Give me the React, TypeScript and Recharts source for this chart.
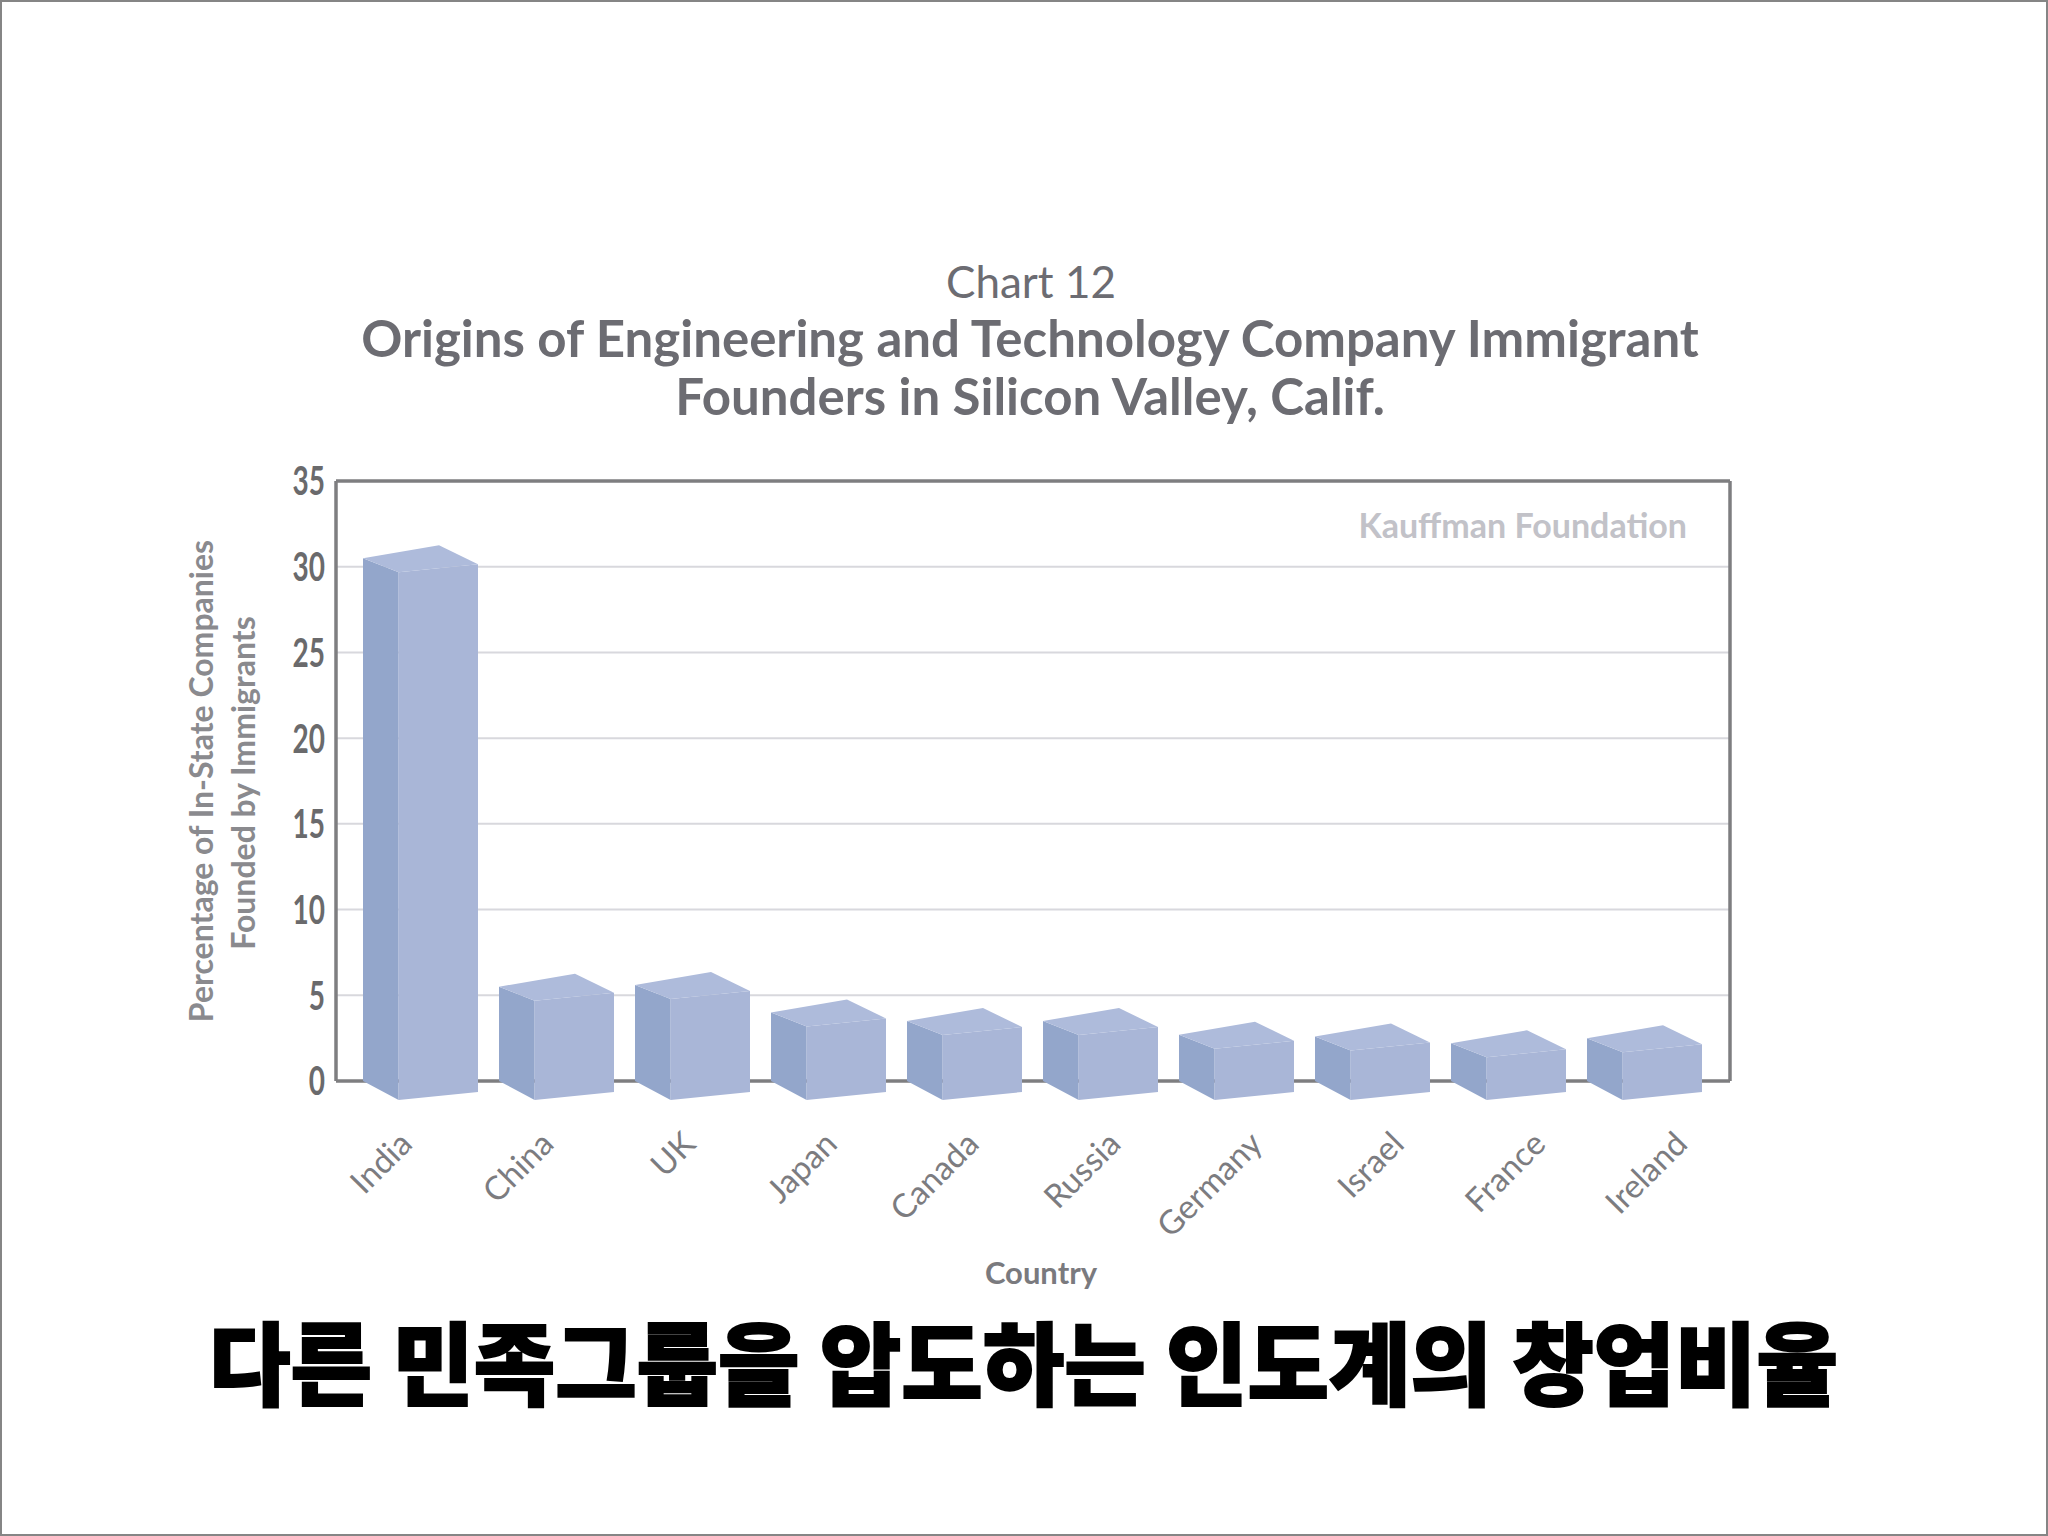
import React from 'react';
import { BarChart, Bar, XAxis, YAxis, CartesianGrid } from 'recharts';

// Kauffman Foundation, Chart 12 — share of Silicon Valley tech companies founded by immigrants, by origin
const COUNTRIES = ['India', 'China', 'UK', 'Japan', 'Canada', 'Russia', 'Germany', 'Israel', 'France', 'Ireland'];
const SHARES = [30.5, 5.5, 5.6, 4.0, 3.5, 3.5, 2.7, 2.6, 2.2, 2.5];
const Y_TICKS = [0, 5, 10, 15, 20, 25, 30, 35];

const TITLE_LINES = [
  'Chart 12',
  'Origins of Engineering and Technology Company Immigrant',
  'Founders in Silicon Valley, Calif.',
];
const Y_LABEL_LINES = ['Percentage of In-State Companies', 'Founded by Immigrants'];
const X_LABEL = 'Country';
const SOURCE = 'Kauffman Foundation';
const CAPTION = '다른 민족그룹을 압도하는 인도계의 창업비율';

const data = COUNTRIES.map((country, i) => ({ country, share: SHARES[i] }));

const W = 2048;
const H = 1536;
const FONT = 'Lato, "Open Sans", sans-serif';

/** 3D 느낌의 상자 막대: 왼쪽 측면(어두움) + 정면 + 윗면 */
function Box3D(props: any) {
  const { x, y, width: w, height: h } = props;
  if (w == null || h == null) return null;
  const s = w * 0.31;
  const base = y + h;
  const side = `M${x},${y} L${x + s},${y + 14} L${x + s},${base + 19} L${x},${base} Z`;
  const front = `M${x + s},${y + 14} L${x + w},${y + 6} L${x + w},${base + 11} L${x + s},${base + 19} Z`;
  const top = `M${x},${y} L${x + w - 39},${y - 13} L${x + w},${y + 6} L${x + s},${y + 14} Z`;
  return (
    <g>
      <path d={side} fill="#93a6cb" />
      <path d={front} fill="#a9b6d7" />
      <path d={top} fill="#aebbdb" />
    </g>
  );
}

function CountryTick(props: any) {
  const { x, y, payload, index } = props;
  const ax = x + index * 5.7 - 6;
  const ay = y + 65;
  return (
    <text
      x={ax}
      y={ay}
      transform={`rotate(-45 ${ax} ${ay})`}
      textAnchor="end"
      fontFamily={FONT}
      fontSize={33}
      fill="#7c7c80"
    >
      {payload.value}
    </text>
  );
}

/** 좁은 숫자 글꼴 흉내: 가로로 눌러서 그림 */
function PercentTick(props: any) {
  const { x, y, payload } = props;
  return (
    <g transform={`translate(${x},${y}) scale(0.7,1)`}>
      <text
        x={0}
        y={0}
        dy="0.36em"
        textAnchor="end"
        fontFamily={FONT}
        fontWeight={700}
        fontSize={40}
        fill="#6a6a6c"
      >
        {payload.value}
      </text>
    </g>
  );
}

export default function App() {
  return (
    <div style={{ position: 'absolute', left: 0, top: 0, width: W, height: H, background: '#ffffff' }}>
      <BarChart
        width={W}
        height={H}
        data={data}
        margin={{ top: 481, right: 318, left: 276, bottom: 395 }}
      >
        <CartesianGrid vertical={false} stroke="#d8d8dd" strokeWidth={2} />
        <CartesianGrid horizontal={false} verticalPoints={[336, 1730]} stroke="#7e7e80" strokeWidth={3.5} />
        <CartesianGrid vertical={false} horizontalPoints={[481, 1081]} stroke="#7e7e80" strokeWidth={3.5} />
        <XAxis
          dataKey="country"
          height={60}
          padding={{ left: 16, right: 18 }}
          axisLine={false}
          tickLine={false}
          tickSize={0}
          tickMargin={0}
          interval={0}
          tick={<CountryTick />}
        />
        <YAxis
          width={60}
          domain={[0, 35]}
          ticks={Y_TICKS}
          axisLine={false}
          tickLine={false}
          tickSize={0}
          tickMargin={11}
          tick={<PercentTick />}
        />
        <Bar dataKey="share" barSize={115} shape={<Box3D />} isAnimationActive={false} />
      </BarChart>

      <svg
        width={W}
        height={H}
        style={{ position: 'absolute', left: 0, top: 0, pointerEvents: 'none' }}
      >
        <text x={1031} y={298} textAnchor="middle" fontFamily={FONT} fontSize={44} fill="#6c6c72">
          {TITLE_LINES[0]}
        </text>
        <text x={1030} y={357} textAnchor="middle" fontFamily={FONT} fontWeight={700} fontSize={51} fill="#6c6c72">
          {TITLE_LINES[1]}
        </text>
        <text x={1030} y={415} textAnchor="middle" fontFamily={FONT} fontWeight={700} fontSize={51} fill="#6c6c72">
          {TITLE_LINES[2]}
        </text>

        <text
          x={200}
          y={781}
          transform="rotate(-90 200 781)"
          textAnchor="middle"
          dominantBaseline="central"
          fontFamily={FONT}
          fontWeight={700}
          fontSize={32}
          fill="#8a8a8e"
        >
          {Y_LABEL_LINES[0]}
        </text>
        <text
          x={242}
          y={783}
          transform="rotate(-90 242 783)"
          textAnchor="middle"
          dominantBaseline="central"
          fontFamily={FONT}
          fontWeight={700}
          fontSize={32}
          fill="#8a8a8e"
        >
          {Y_LABEL_LINES[1]}
        </text>

        <text x={1687} y={538} textAnchor="end" fontFamily={FONT} fontWeight={700} fontSize={34} fill="#c2c2c8">
          {SOURCE}
        </text>

        <text x={1041} y={1284} textAnchor="middle" fontFamily={FONT} fontWeight={700} fontSize={31} fill="#7a7a7e">
          {X_LABEL}
        </text>

        <text
          x={209}
          y={1398}
          textLength={1629}
          lengthAdjust="spacingAndGlyphs"
          fontFamily='"Noto Sans CJK KR", sans-serif'
          fontWeight={900}
          fontSize={90}
          fill="#000"
          stroke="#000"
          strokeWidth={2}
        >
          {CAPTION}
        </text>
      </svg>

      <div
        style={{
          position: 'absolute',
          left: 0,
          top: 0,
          width: W,
          height: H,
          boxSizing: 'border-box',
          border: '2px solid #858585',
          pointerEvents: 'none',
        }}
      />
    </div>
  );
}
